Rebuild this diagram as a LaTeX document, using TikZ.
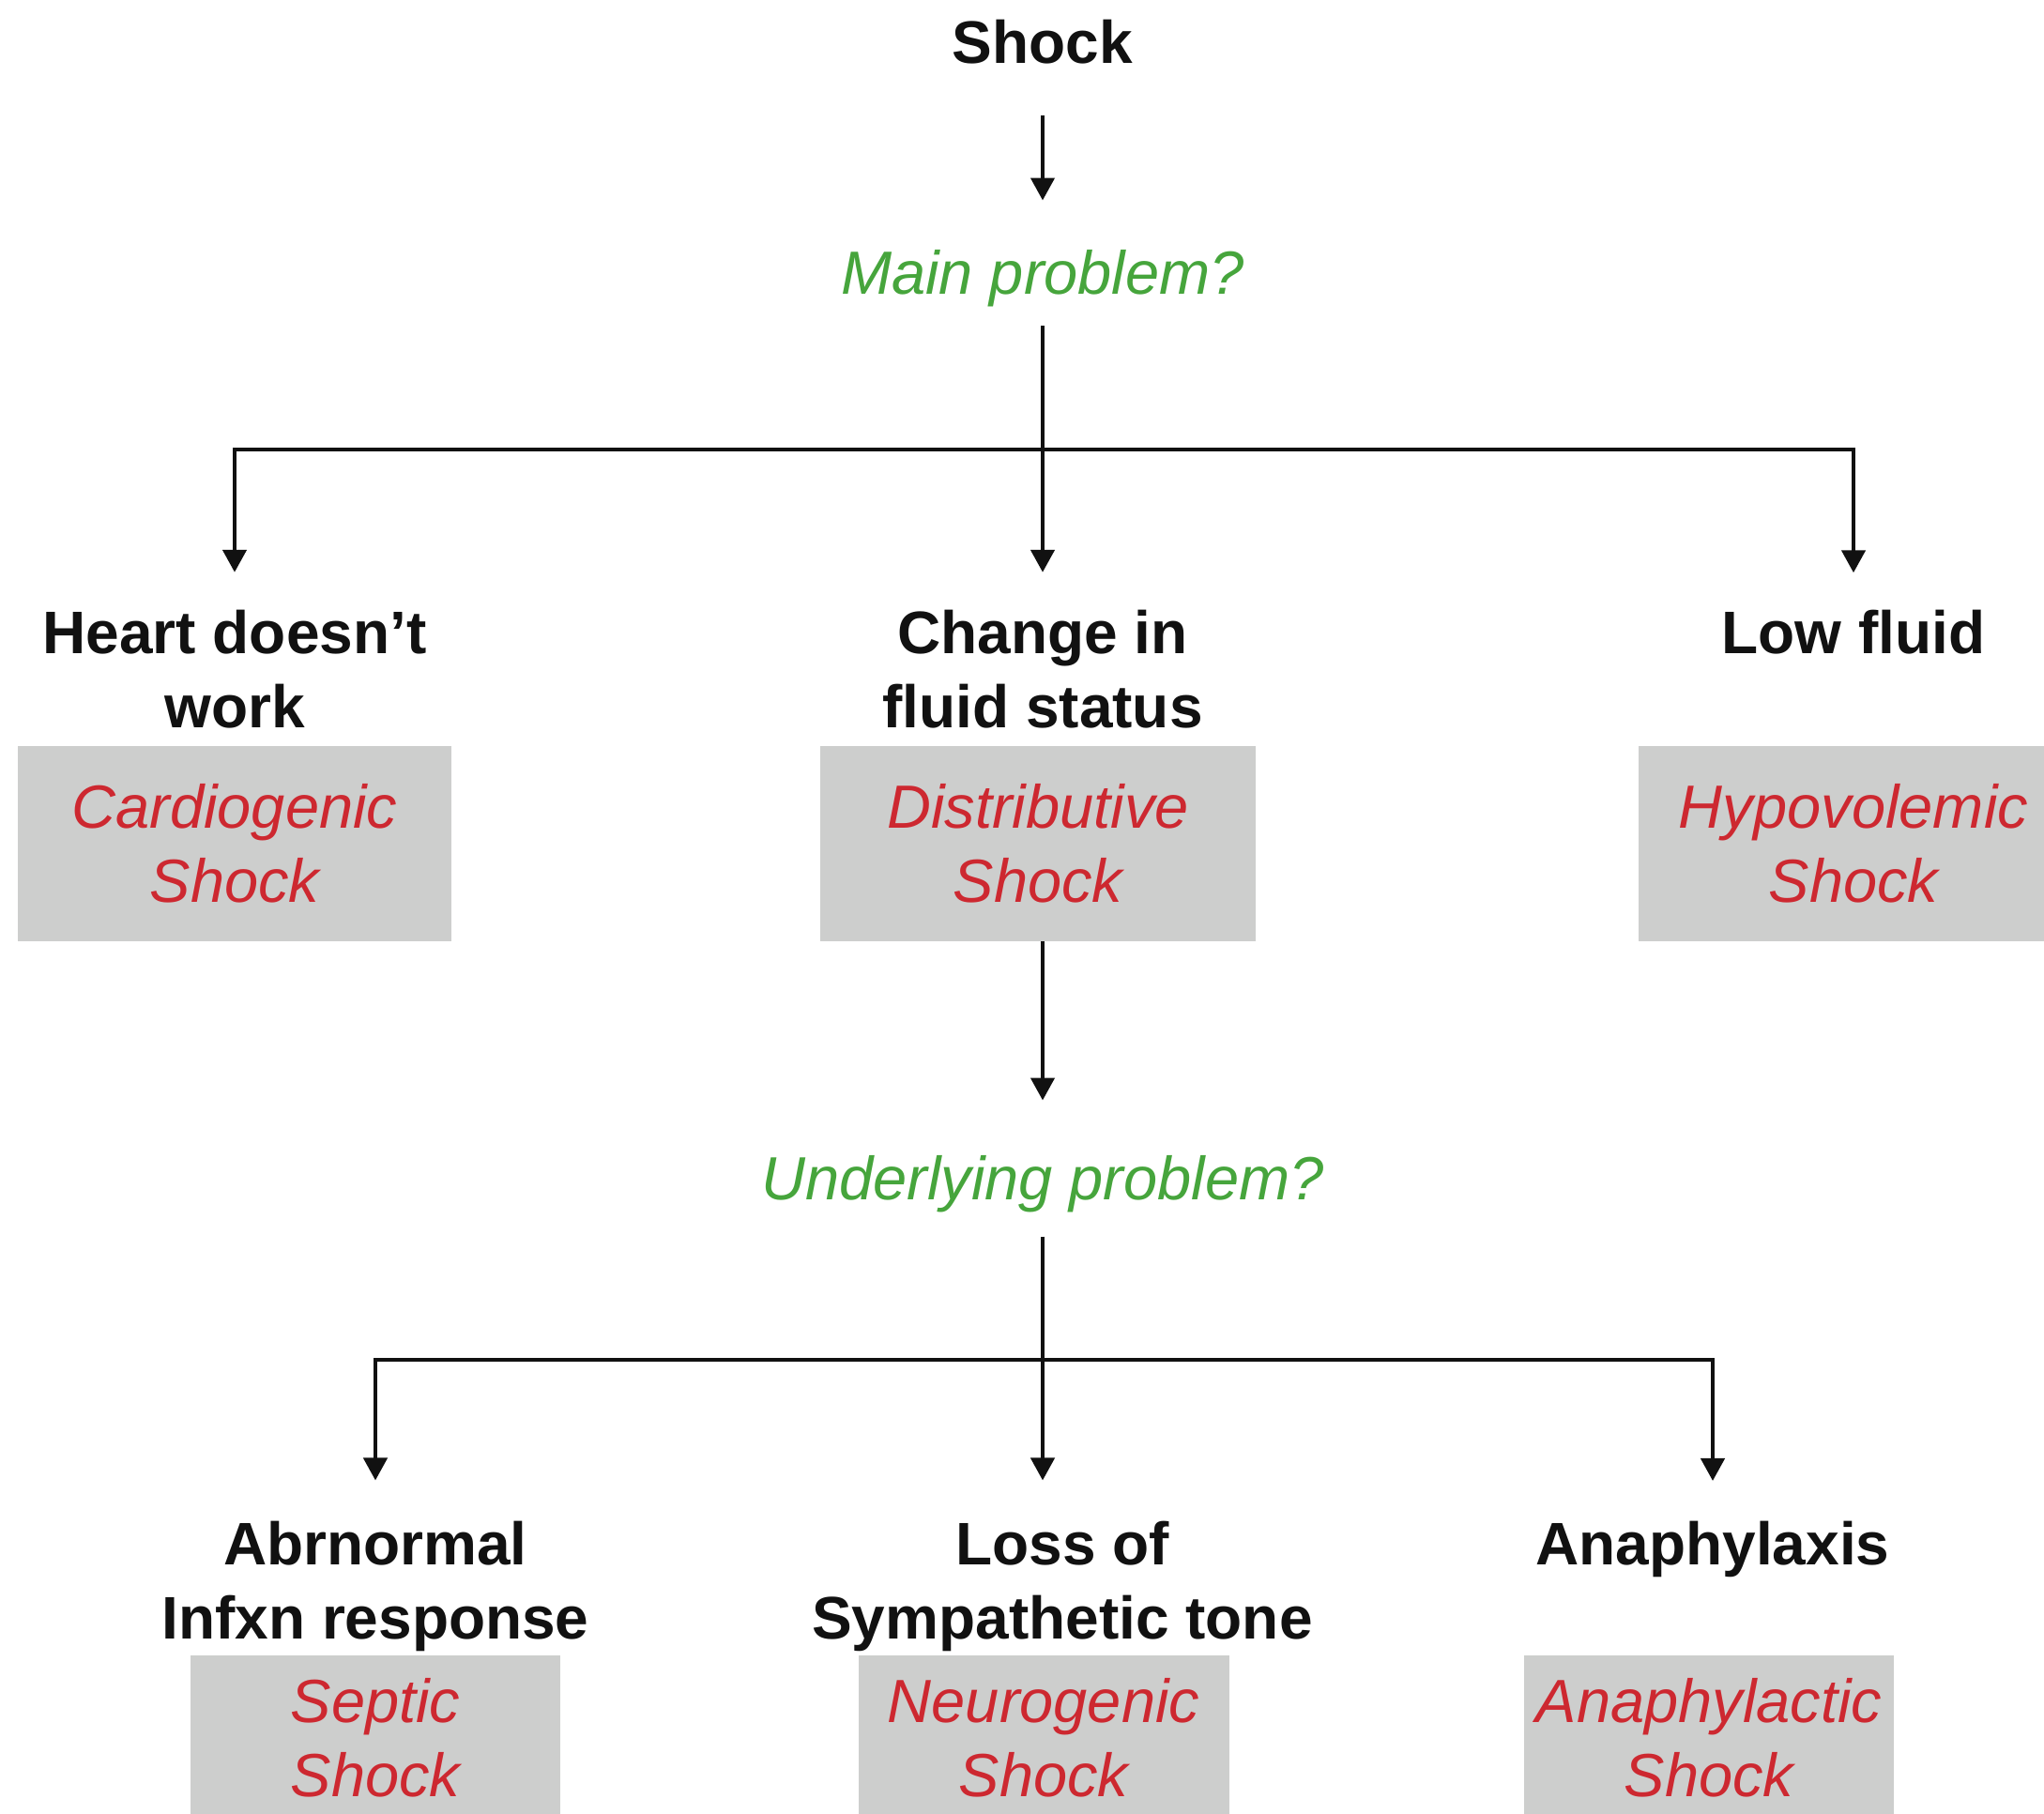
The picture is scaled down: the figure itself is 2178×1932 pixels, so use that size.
\documentclass[tikz,border=0pt]{standalone}
\usepackage{fontspec}
\setmainfont{Liberation Sans}
\usetikzlibrary{arrows.meta}
\definecolor{qgreen}{RGB}{70,165,60}
\definecolor{sred}{RGB}{205,40,48}
\definecolor{boxgray}{RGB}{205,206,205}
\definecolor{ink}{RGB}{17,17,17}
\begin{document}
\begin{tikzpicture}[x=1pt,y=-1pt,
  lbl/.style={inner sep=0pt,align=center,text=ink,font=\fontsize{64}{79}\selectfont\bfseries},
  qst/.style={inner sep=0pt,align=center,text=qgreen,font=\fontsize{65}{79}\selectfont\itshape},
  shk/.style={fill=boxgray,draw=none,inner sep=0pt,align=center,text=sred,font=\fontsize{65}{79}\selectfont\itshape},
  conn/.style={line width=4.5pt,draw=ink},
  arr/.style={conn,-{Triangle[width=25pt,length=24pt]}}]
\useasboundingbox (0,0) rectangle (2178,1932);
\fill[white] (0,0) rectangle (2178,1932);
% top level
\node[lbl] (shock) at (1111,45) {Shock};
\node[qst] (main) at (1111,297) {Main problem?};
\coordinate (j1) at (1111,479);
\node[lbl] (heart) at (250,713) {Heart doesn’t\\work};
\node[lbl] (change) at (1111,713) {Change in\\fluid status};
\node[lbl] (low) at (1975,674) {Low fluid};
\node[shk,minimum width=462pt,minimum height=208pt] (cardio) at (250,899) {Cardiogenic\\Shock};
\node[shk,minimum width=464pt,minimum height=208pt] (distrib) at (1106,899) {Distributive\\Shock};
\node[shk,minimum width=458pt,minimum height=208pt] (hypo) at (1975,899) {Hypovolemic\\Shock};
% second level
\node[qst] (under) at (1111,1262) {Underlying problem?};
\coordinate (j2) at (1111,1449);
\node[lbl] (abn) at (400,1690) {Abrnormal\\Infxn response};
\node[lbl] (loss) at (1132,1690) {Loss of\\Sympathetic tone};
\node[lbl] (ana) at (1825,1651) {Anaphylaxis};
\node[shk,minimum width=394pt,minimum height=176pt] (septic) at (400,1852) {Septic\\Shock};
\node[shk,minimum width=395pt,minimum height=176pt] (neuro) at (1112,1852) {Neurogenic\\Shock};
\node[shk,minimum width=394pt,minimum height=176pt] (anaph) at (1821,1852) {Anaphylactic\\Shock};
% connectors
\draw[arr,shorten <=54pt,shorten >=53pt] (shock) -- (main);
\draw[conn,shorten <=20pt] (main) -- (j1);
\draw[arr,shorten >=40pt] (j1) -| (heart.north);
\draw[arr,shorten >=40pt] (j1) -- (change.north);
\draw[arr,shorten >=40pt] (j1) -| (low.north);
\draw[arr,shorten >=59pt] (distrib.south -| under) -- (under.north);
\draw[conn,shorten <=25pt] (under) -- (j2);
\draw[arr,shorten >=43pt] (j2) -| (abn.north);
\draw[arr,shorten >=43pt] (j2) -- (j2 |- loss.north);
\draw[arr,shorten >=43pt] (j2) -| (ana.north);
\end{tikzpicture}
\end{document}
